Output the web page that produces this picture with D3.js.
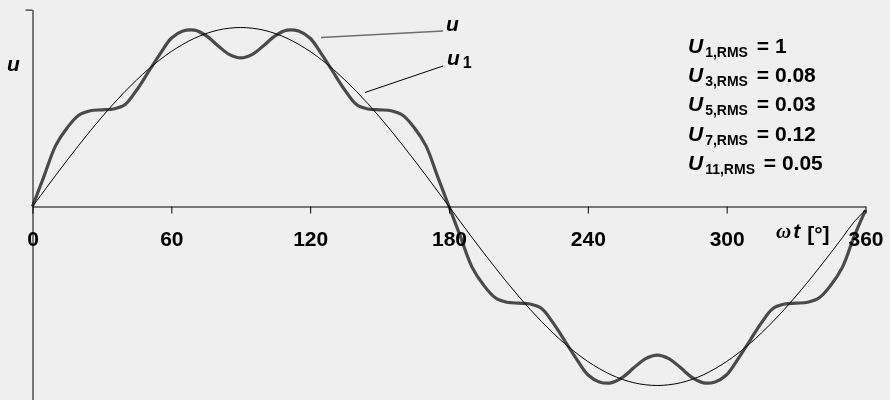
<!DOCTYPE html>
<html>
    <head>
        <meta charset="utf-8">
        <title>u and u1</title>
        <style>
            html, body {margin: 0px;padding: 0px;overflow: hidden;background: #eeefee;}
            #chart {position: fixed;}
            text {font-family: "Liberation Sans", Arial, sans-serif;font-weight: bold;fill: #000;}
        </style>
    </head>
    <body>
        <div id="chart"></div>
        <script src="https://cdn.jsdelivr.net/npm/d3@7"></script>
        <script type="text/javascript">
        // angle in degrees
        var angles = [0, 5, 10, 15, 20, 25, 30, 35, 40, 45, 50, 55, 60, 65, 70, 75, 80, 85, 90,
            95, 100, 105, 110, 115, 120, 125, 130, 135, 140, 145, 150, 155, 160, 165, 170, 175, 180,
            185, 190, 195, 200, 205, 210, 215, 220, 225, 230, 235, 240, 245, 250, 255, 260, 265, 270,
            275, 280, 285, 290, 295, 300, 305, 310, 315, 320, 325, 330, 335, 340, 345, 350, 355, 360];

        // fundamental u1
        var u1Values = [0, 0.087, 0.174, 0.259, 0.342, 0.423, 0.500, 0.574, 0.643, 0.707, 0.766, 0.819, 0.866, 0.906, 0.940, 0.966, 0.985, 0.996, 1.000,
            0.996, 0.985, 0.966, 0.940, 0.906, 0.866, 0.819, 0.766, 0.707, 0.643, 0.574, 0.500, 0.423, 0.342, 0.259, 0.174, 0.087, 0.000,
            -0.087, -0.174, -0.259, -0.342, -0.423, -0.500, -0.574, -0.643, -0.707, -0.766, -0.819, -0.866, -0.906, -0.940, -0.966, -0.985, -0.996, -1.000,
            -0.996, -0.985, -0.966, -0.940, -0.906, -0.866, -0.819, -0.766, -0.707, -0.643, -0.574, -0.500, -0.423, -0.342, -0.259, -0.174, -0.087, -0.02];

        // distorted voltage u
        var uValues = [0, 0.17, 0.34, 0.44, 0.51, 0.535, 0.54, 0.545, 0.57, 0.65, 0.75, 0.85, 0.94, 0.98, 0.985, 0.955, 0.90, 0.85, 0.83,
            0.85, 0.90, 0.955, 0.985, 0.98, 0.94, 0.85, 0.75, 0.65, 0.57, 0.545, 0.54, 0.535, 0.51, 0.44, 0.34, 0.17, 0.00,
            -0.17, -0.34, -0.44, -0.51, -0.535, -0.54, -0.545, -0.57, -0.65, -0.75, -0.85, -0.94, -0.98, -0.985, -0.955, -0.90, -0.85, -0.83,
            -0.85, -0.90, -0.955, -0.985, -0.98, -0.94, -0.85, -0.75, -0.65, -0.57, -0.545, -0.54, -0.535, -0.51, -0.44, -0.34, -0.17, -0.02];

        var xTicks = [0, 60, 120, 180, 240, 300, 360];

        var legendHarmonics = ["1", "3", "5", "7", "11"];
        var legendValues = ["1", "0.08", "0.03", "0.12", "0.05"];

        var width = 890,
            height = 400;

        var svg = d3.select("#chart").append("svg")
            .attr("width", width)
            .attr("height", height);

        var x = d3.scaleLinear().domain([0, 360]).range([32.5, 865.5]);
        var y = d3.scaleLinear().domain([-1.1, 1.1]).range([403.4, 9.6]);

        var line = d3.line()
            .x(function(d) { return x(d[0]); })
            .y(function(d) { return y(d[1]); })
            .curve(d3.curveCatmullRom.alpha(0.5));

        var uData = angles.map(function(a, i) { return [a, uValues[i]]; });
        var u1Data = angles.map(function(a, i) { return [a, u1Values[i]]; });

        svg.append("path")
            .datum(uData)
            .attr("fill", "none")
            .attr("stroke", "#4a4a4a")
            .attr("stroke-width", 3.2)
            .attr("d", line);

        svg.append("path")
            .datum(u1Data)
            .attr("fill", "none")
            .attr("stroke", "#000")
            .attr("stroke-width", 1)
            .attr("d", line);

        // axes
        var xAxis = svg.append("g")
            .attr("transform", "translate(0," + y(0) + ")")
            .call(d3.axisBottom(x).tickValues(xTicks).tickSize(7).tickSizeOuter(0).tickPadding(18));

        xAxis.selectAll("text")
            .attr("font-size", 21)
            .attr("font-family", "Liberation Sans, Arial, sans-serif");

        svg.append("g")
            .attr("transform", "translate(" + x(0) + ",0)")
            .call(d3.axisLeft(y).tickValues([1.1]).tickSize(7).tickSizeOuter(0).tickFormat(""));

        svg.selectAll(".domain, .tick line").attr("stroke", "#000").attr("stroke-width", 1);

        // axis titles
        svg.append("text")
            .attr("x", 7)
            .attr("y", 71)
            .attr("font-size", 21)
            .attr("font-style", "italic")
            .text("u");

        var xt = svg.append("text")
            .attr("x", 776)
            .attr("y", 238)
            .attr("font-size", 21);
        xt.append("tspan")
            .attr("font-family", "Liberation Serif, serif")
            .attr("font-style", "italic")
            .text("\u03c9");
        xt.append("tspan")
            .attr("font-style", "italic")
            .attr("dx", 2)
            .text("t");
        xt.append("tspan")
            .attr("dx", 7)
            .attr("dy", 3)
            .text("[\u00b0]");

        // curve labels with leader lines
        svg.append("line")
            .attr("x1", 321).attr("y1", 37.5)
            .attr("x2", 443).attr("y2", 31)
            .attr("stroke", "#6e6e6e")
            .attr("stroke-width", 1.4);

        svg.append("line")
            .attr("x1", 365).attr("y1", 92.5)
            .attr("x2", 443).attr("y2", 66)
            .attr("stroke", "#000")
            .attr("stroke-width", 1);

        svg.append("text")
            .attr("x", 446)
            .attr("y", 31)
            .attr("font-size", 21)
            .attr("font-style", "italic")
            .text("u");

        var u1Label = svg.append("text")
            .attr("x", 447)
            .attr("y", 65)
            .attr("font-size", 21);
        u1Label.append("tspan").attr("font-style", "italic").text("u");
        u1Label.append("tspan").attr("font-size", 16).attr("dx", 3).attr("dy", 3).text("1");

        // RMS values
        var legend = svg.append("g");

        legend.selectAll("text")
            .data(legendHarmonics)
            .enter().append("text")
            .attr("x", 688)
            .attr("y", function(d, i) { return 53 + i * 29.2; })
            .attr("font-size", 21)
            .each(function(d, i) {
                var t = d3.select(this);
                t.append("tspan").attr("font-style", "italic").text("U");
                t.append("tspan").attr("font-size", 14).attr("dx", 2).attr("dy", 4).text(d + ",RMS");
                t.append("tspan").attr("dx", 3).attr("dy", -4).text(" = " + legendValues[i]);
            });
        </script>
    </body>
</html>
